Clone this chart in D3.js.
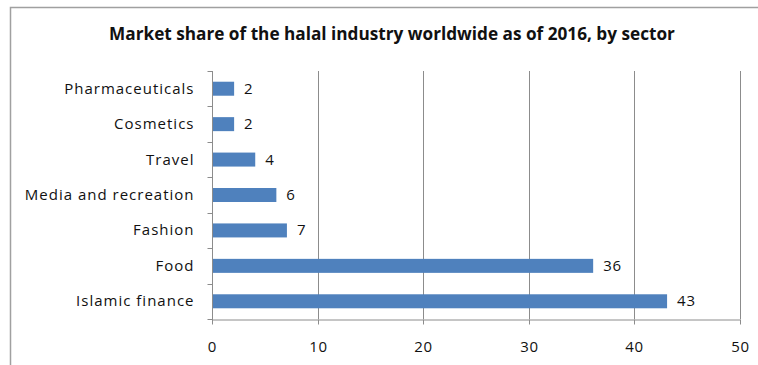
<!DOCTYPE html>
<html><head><meta charset="utf-8">
<script src="https://cdn.jsdelivr.net/npm/d3@7"></script>
<style>body{margin:0;background:#fff}svg{display:block}text{font-family:"Open Sans","Noto Sans",sans-serif}</style>
</head><body><svg id="c" width="758" height="365"></svg>
<script>
const categories = ["Pharmaceuticals","Cosmetics","Travel","Media and recreation","Fashion","Food","Islamic finance"];
const values = [2,2,4,6,7,36,43];
const xTicks = [0,10,20,30,40,50];
const title = "Market share of the halal industry worldwide as of 2016, by sector";

const svg = d3.select("#c");
const L = 212, R = 740, T = 71, B = 319;
const x = d3.scaleLinear().domain([0,50]).range([L,R]);
const y = d3.scaleBand().domain(categories).range([T,B]).paddingInner(0.6).paddingOuter(0.3);
const FONT = '"Open Sans","Noto Sans",sans-serif';

// outer frame
svg.append("path").attr("d","M10.5,365 V7.5 H758").attr("fill","none").attr("stroke","#a0a0a0").attr("stroke-width",1.5);

svg.append("text").attr("x",392).attr("y",40).attr("text-anchor","middle")
  .attr("font-size",17.2).attr("font-weight","bold").attr("fill","#111").text(title);

// gridlines
svg.append("g").selectAll("line").data(xTicks.slice(1)).join("line")
  .attr("x1",d=>Math.round(x(d))+0.5).attr("x2",d=>Math.round(x(d))+0.5)
  .attr("y1",T).attr("y2",B).attr("stroke","#8c8c8c").attr("stroke-width",1);

// bars
svg.append("g").selectAll("rect").data(values).join("rect")
  .attr("x",x(0)+1).attr("y",(d,i)=>y(categories[i])+y.bandwidth()/2-7)
  .attr("width",d=>x(d)-x(0)).attr("height",14).attr("fill","#4f81bd");

// value labels
svg.append("g").selectAll("text").data(values).join("text")
  .attr("x",d=>x(d)+11).attr("y",(d,i)=>y(categories[i])+y.bandwidth()/2+5)
  .attr("font-size",15).attr("letter-spacing",0.8).attr("fill","#111").text(d=>d);

// x axis
const xa = svg.append("g").attr("transform",`translate(0,${B+0.5})`)
  .call(d3.axisBottom(x).tickValues(xTicks).tickSize(5).tickSizeOuter(0).tickPadding(17));
xa.select(".domain").attr("stroke","#8c8c8c");
xa.selectAll(".tick line").attr("stroke","#8c8c8c");
xa.selectAll("text").attr("font-size",15).attr("letter-spacing",0.8).attr("fill","#111").style("font-family",FONT);
xa.selectAll(".tick").attr("transform",d=>`translate(${Math.round(x(d))+0.5},0)`);

// y axis
const yStep = (B-T)/categories.length;
const ya = svg.append("g").attr("transform",`translate(${L+0.5},0)`);
ya.append("line").attr("y1",T).attr("y2",B+5).attr("stroke","#8c8c8c");
ya.selectAll("line.t").data(d3.range(categories.length+1)).join("line").attr("class","t")
  .attr("x1",-5).attr("x2",0).attr("y1",i=>Math.round(T+i*yStep)+0.5).attr("y2",i=>Math.round(T+i*yStep)+0.5).attr("stroke","#8c8c8c");
ya.selectAll("text").data(categories).join("text")
  .attr("x",-18).attr("y",d=>y(d)+y.bandwidth()/2+5).attr("text-anchor","end")
  .attr("font-size",15).attr("letter-spacing",1).attr("fill","#111").text(d=>d);
</script></body></html>
